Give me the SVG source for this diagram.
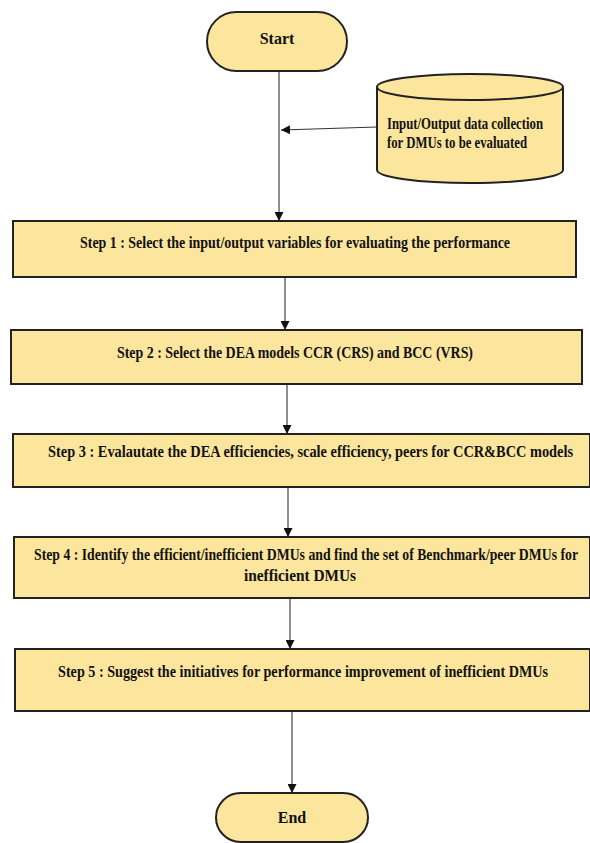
<svg xmlns="http://www.w3.org/2000/svg" width="590" height="843" viewBox="0 0 590 843">
<style>
.shape{fill:#fce59c;stroke:#222;stroke-width:2}
.t{font-family:"Liberation Serif","Times New Roman",serif;font-weight:bold;fill:#111;font-size:16px}
.c{text-anchor:middle}
.ln{stroke:#333;stroke-width:1.1;fill:none}
</style>
<defs>
<marker id="ah" viewBox="0 0 10 10" refX="10" refY="5" markerWidth="9" markerHeight="9" markerUnits="userSpaceOnUse" orient="auto">
<path d="M0,0 L10,5 L0,10 Z" fill="#111"/>
</marker>
</defs>
<rect width="590" height="843" fill="#fff"/>
<g id="connectors">
<line class="ln" x1="279" y1="71" x2="279" y2="221" marker-end="url(#ah)"/>
<line class="ln" x1="377" y1="127" x2="281" y2="130" marker-end="url(#ah)"/>
<line class="ln" x1="285" y1="277" x2="285" y2="330" marker-end="url(#ah)"/>
<line class="ln" x1="287" y1="384" x2="287" y2="434" marker-end="url(#ah)"/>
<line class="ln" x1="288" y1="487" x2="288" y2="537" marker-end="url(#ah)"/>
<line class="ln" x1="290" y1="598" x2="290" y2="649" marker-end="url(#ah)"/>
<line class="ln" x1="292" y1="711" x2="292" y2="793" marker-end="url(#ah)"/>
</g>
<g id="start">
<rect class="shape" x="207" y="12" width="140" height="59" rx="29.5" ry="29.5"/>
<text class="t c" x="277" y="44" font-size="17">Start</text>
</g>
<g id="data">
<path class="shape" d="M377,87 L377,170 A93,13 0 0 0 563,170 L563,87"/>
<ellipse class="shape" cx="470" cy="87" rx="93" ry="13"/>
<text class="t" x="387" y="129" font-size="14" textLength="156" lengthAdjust="spacingAndGlyphs">Input/Output data collection</text>
<text class="t" x="387" y="148" font-size="14" textLength="140" lengthAdjust="spacingAndGlyphs">for DMUs to be evaluated</text>
</g>
<g id="step1">
<rect class="shape" x="13" y="221" width="563" height="56"/>
<text class="t" x="80" y="248" textLength="430" lengthAdjust="spacingAndGlyphs">Step 1 : Select the input/output variables for evaluating the performance</text>
</g>
<g id="step2">
<rect class="shape" x="11" y="330" width="571" height="54"/>
<text class="t" x="117" y="358" textLength="356" lengthAdjust="spacingAndGlyphs">Step 2 : Select the DEA models CCR (CRS) and BCC (VRS)</text>
</g>
<g id="step3">
<rect class="shape" x="13" y="434" width="577" height="53"/>
<text class="t" x="48" y="457" textLength="525" lengthAdjust="spacingAndGlyphs">Step 3 : Evalautate the DEA efficiencies, scale efficiency, peers for CCR&amp;BCC models</text>
</g>
<g id="step4">
<rect class="shape" x="14" y="537" width="576" height="61"/>
<text class="t" x="34" y="560" textLength="544" lengthAdjust="spacingAndGlyphs">Step 4 : Identify the efficient/inefficient DMUs and find the set of Benchmark/peer DMUs for</text>
<text class="t c" x="300" y="581" textLength="112" lengthAdjust="spacingAndGlyphs">inefficient DMUs</text>
</g>
<g id="step5">
<rect class="shape" x="15" y="649" width="575" height="62"/>
<text class="t" x="58" y="677" textLength="490" lengthAdjust="spacingAndGlyphs">Step 5 : Suggest the initiatives for performance improvement of inefficient DMUs</text>
</g>
<g id="end">
<rect class="shape" x="216" y="793" width="152" height="49" rx="24.5" ry="24.5"/>
<text class="t c" x="292" y="823" font-size="17">End</text>
</g>
</svg>
